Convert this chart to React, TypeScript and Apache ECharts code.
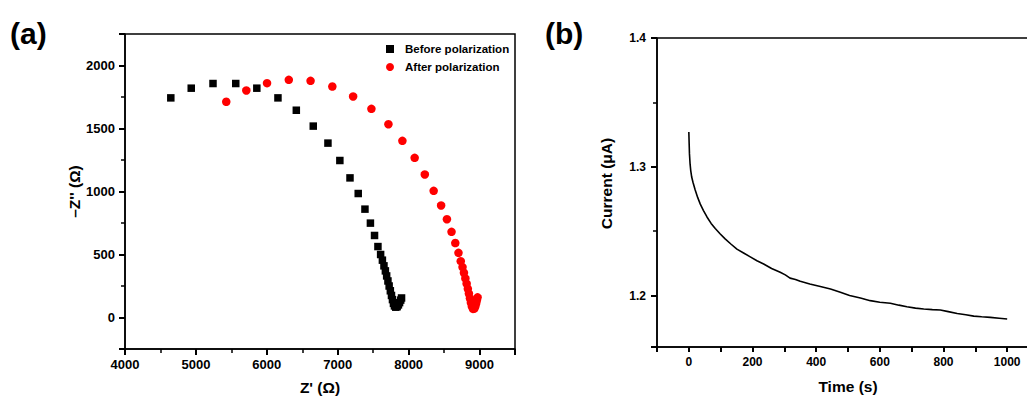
import React, { useEffect, useRef } from "react";
import * as echarts from "echarts";

// Panel (a): Nyquist plot, [Z' (Ω), -Z'' (Ω)]
const beforePolarization: [number, number][] = [
  [4646, 1743], [4934, 1820], [5241, 1857], [5562, 1857], [5859, 1820],
  [6157, 1743], [6416, 1645], [6655, 1519], [6862, 1384], [7030, 1246],
  [7173, 1108], [7289, 984], [7384, 860], [7461, 749], [7519, 651],
  [7567, 563], [7605, 500], [7630, 455], [7652, 410], [7672, 370],
  [7690, 330], [7708, 290], [7725, 250], [7742, 212], [7758, 175],
  [7772, 142], [7786, 112], [7800, 92], [7818, 82], [7838, 86],
  [7856, 100], [7872, 118], [7888, 138], [7900, 155],
];
const afterPolarization: [number, number][] = [
  [5428, 1712], [5711, 1802], [6003, 1860], [6310, 1886], [6617, 1878],
  [6924, 1833], [7217, 1754], [7475, 1656], [7715, 1534], [7912, 1402],
  [8085, 1267], [8228, 1135], [8353, 1005], [8458, 889], [8540, 780],
  [8605, 680], [8658, 591], [8703, 513], [8735, 447], [8760, 400],
  [8780, 355], [8800, 310], [8818, 268], [8835, 228], [8850, 190],
  [8865, 152], [8878, 118], [8892, 88], [8908, 68], [8926, 70],
  [8940, 88], [8952, 112], [8963, 138], [8972, 160],
];

// Panel (b): chronoamperometry, [time (s), current (µA)]
const currentTrace: [number, number][] = [
  [0, 1.327], [1, 1.318], [2, 1.31], [4, 1.302], [6, 1.297], [9, 1.292],
  [13, 1.288], [20, 1.282], [28, 1.276], [36, 1.271], [46, 1.266],
  [57, 1.261], [70, 1.256], [83, 1.252], [98, 1.248], [114, 1.244],
  [132, 1.24], [151, 1.236], [172, 1.233], [193, 1.23], [214, 1.227],
  [235, 1.2245], [260, 1.221], [287, 1.218], [303, 1.216], [318, 1.2135],
  [335, 1.2125], [350, 1.211], [380, 1.209], [413, 1.207], [445, 1.205],
  [476, 1.2025], [505, 1.2], [539, 1.198], [570, 1.196], [600, 1.1948],
  [633, 1.194], [660, 1.1925], [685, 1.1913], [712, 1.1902], [738, 1.1895],
  [765, 1.189], [790, 1.1887], [815, 1.1875], [843, 1.186], [870, 1.185],
  [895, 1.184], [920, 1.1835], [947, 1.183], [975, 1.1823], [1000, 1.1817],
];

// Axis ranges and tick label spacing
const aXRange = [4000, 9500];
const aXStep = 1000;
const aXLabelMax = 9000;
const aYRange = [-250, 2250];
const aYLabelStep = 500;
const aYLabelMax = 2000;
const bXRange = [-100, 1100];
const bXStep = 100;
const bXLabelStep = 200;
const bXLabelMax = 1000;
const bYRange = [1.16, 1.4];
const bYLabelStep = 0.1;

// Titles
const aXTitle = "Z' (Ω)";
const aYTitle = "\u2013Z'' (Ω)";
const bXTitle = "Time (s)";
const bYTitle = "Current (μA)";
const panelLabels = ["(a)", "(b)"];

const FONT = "'Liberation Sans', Arial, sans-serif";
const BLACK = "#000";

const isMultiple = (v: number, step: number) =>
  Math.abs(v / step - Math.round(v / step)) < 1e-6;

function axis(
  gridIndex: number, position: string, range: number[], opts: any,
  name: string, nameGap: number, namePadding: number[],
  labelSize: number, margin: number, formatter: (v: number) => string,
  tickLen: number, minor: boolean
) {
  const a: any = {
    type: "value",
    gridIndex,
    position,
    min: range[0],
    max: range[1],
    ...opts,
    name,
    nameGap,
    nameLocation: "middle",
    nameTextStyle: {
      color: BLACK, fontFamily: FONT, fontWeight: "bold", fontSize: 15.5, padding: namePadding,
    },
    splitLine: { show: false },
    axisLine: { show: true, onZero: false, lineStyle: { color: BLACK, width: 1.5 } },
    axisTick: { show: true, length: tickLen, lineStyle: { color: BLACK, width: 2 } },
    axisLabel: {
      margin, color: BLACK, fontFamily: FONT, fontWeight: "bold", fontSize: labelSize, formatter,
    },
  };
  if (minor) {
    a.minorTick = { show: true, splitNumber: 2, length: 4, lineStyle: { color: BLACK, width: 1.5 } };
  }
  return a;
}

export default function App() {
  const ref = useRef<HTMLDivElement>(null);

  useEffect(() => {
    if (!ref.current) return;
    const chart = echarts.init(ref.current, null, { renderer: "svg" });
    chart.setOption({
      animation: false,
      backgroundColor: "#fff",
      title: [
        { text: panelLabels[0], left: 10, top: 18, padding: 0, textStyle: { color: BLACK, fontFamily: FONT, fontWeight: "bold", fontSize: 30 } },
        { text: panelLabels[1], left: 545, top: 18, padding: 0, textStyle: { color: BLACK, fontFamily: FONT, fontWeight: "bold", fontSize: 30 } },
      ],
      grid: [
        { left: 125, top: 34, width: 390, height: 315, show: true, borderColor: BLACK, borderWidth: 1.5, backgroundColor: "transparent", outerBoundsMode: "none" },
        { left: 657, top: 38, width: 382, height: 309, show: true, borderColor: BLACK, borderWidth: 1.5, backgroundColor: "transparent", outerBoundsMode: "none" },
      ],
      xAxis: [
        axis(0, "bottom", aXRange, { interval: aXStep }, aXTitle, 30, [0, 0, 0, 0], 13, 9,
          (v) => (v <= aXLabelMax && isMultiple(v, aXStep) ? String(v) : ""), 6, true),
        axis(1, "bottom", bXRange, { interval: bXStep }, bXTitle, 31, [0, 0, 0, 0], 12, 9,
          (v) => (v >= 0 && v <= bXLabelMax && isMultiple(v, bXLabelStep) ? String(v) : ""), 5, false),
      ],
      yAxis: [
        axis(0, "left", aYRange, { splitNumber: 5 }, aYTitle, 43, [0, 0, 0, 0], 13, 10,
          (v) => (v >= 0 && v <= aYLabelMax && isMultiple(v, aYLabelStep) ? String(v) : ""), 6, true),
        axis(1, "left", bYRange, { splitNumber: 2 }, bYTitle, 43, [0, 0, 0, 18], 12, 11,
          (v) => (isMultiple(v, bYLabelStep) ? v.toFixed(1) : ""), 6, true),
      ],
      legend: {
        orient: "vertical",
        left: 381,
        top: 38,
        itemWidth: 8,
        itemHeight: 8,
        itemGap: 6,
        textStyle: { color: BLACK, fontFamily: FONT, fontWeight: "bold", fontSize: 11.5, padding: [0, 0, 0, 6] },
        data: [
          { name: "Before polarization", icon: "rect" },
          { name: "After polarization", icon: "circle" },
        ],
      },
      series: [
        {
          name: "Before polarization", type: "scatter", xAxisIndex: 0, yAxisIndex: 0,
          symbol: "rect", symbolSize: 7.5, itemStyle: { color: BLACK, opacity: 1 }, data: beforePolarization,
        },
        {
          name: "After polarization", type: "scatter", xAxisIndex: 0, yAxisIndex: 0,
          symbol: "circle", symbolSize: 8.5, itemStyle: { color: "#ff0000", opacity: 1 }, data: afterPolarization,
        },
        {
          name: "Current", type: "line", xAxisIndex: 1, yAxisIndex: 1, showSymbol: false,
          symbol: "none", lineStyle: { color: BLACK, width: 1.6 }, data: currentTrace,
        },
      ],
    });
    return () => chart.dispose();
  }, []);

  return (
    <div
      ref={ref}
      style={{ position: "absolute", left: 0, top: 0, width: 1027, height: 400, background: "#fff" }}
    />
  );
}
